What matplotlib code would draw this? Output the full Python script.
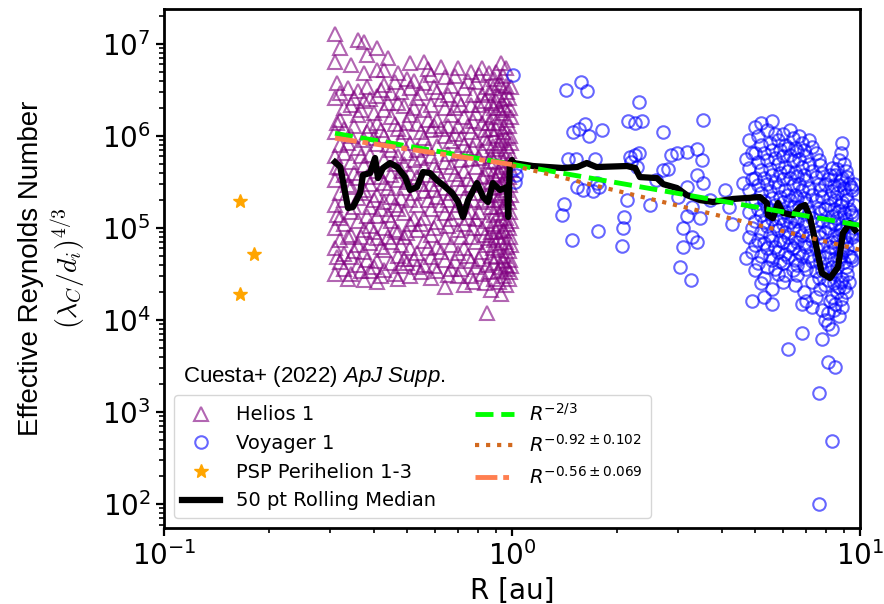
import matplotlib
matplotlib.use("Agg")
from matplotlib import pyplot as plt
import numpy as np

# Helios 1 : columns of R [au] with the Re values read in each
helios_cols = [0.31, 0.32, 0.33, 0.345, 0.36, 0.375, 0.39, 0.41, 0.43, 0.45,
               0.47, 0.49, 0.51, 0.535, 0.56, 0.585, 0.61, 0.64, 0.67, 0.70,
               0.73, 0.76, 0.79, 0.82, 0.85, 0.87, 0.89, 0.91, 0.93, 0.95,
               0.97, 0.99,
               0.315, 0.338, 0.352, 0.368, 0.383, 0.40, 0.42, 0.44, 0.46, 0.48,
               0.50, 0.523, 0.548, 0.572, 0.597, 0.625, 0.655, 0.685, 0.715, 0.745,
               0.775, 0.805, 0.835, 0.86, 0.88, 0.90, 0.92, 0.94, 0.96, 0.98, 0.995]
helios_re = [
    [1.3e7, 6.3e6, 2.6e6, 1.1e6, 6e5, 3.3e5, 1.8e5, 1.0e5, 6e4, 3.2e4],
    [9e6, 2.9e6, 1.5e6, 8e5, 4.5e5, 2.4e5, 1.3e5, 7.5e4, 4.3e4],
    [2.0e6, 1.2e6, 6.5e5, 3.8e5, 2.0e5, 1.1e5, 5.2e4, 3.6e4],
    [5.9e6, 2.2e6, 1.0e6, 5.2e5, 2.8e5, 1.5e5, 8.5e4, 4.8e4, 3.2e4],
    [1.1e7, 3.1e6, 1.7e6, 7.5e5, 3.5e5, 2.1e5, 1.2e5, 6.5e4, 4.0e4],
    [1.05e7, 4.8e6, 2.4e6, 9e5, 4.8e5, 2.6e5, 9.5e4, 5.5e4, 2.7e4],
    [2.5e6, 1.3e6, 6.2e5, 3.0e5, 1.7e5, 1.05e5, 6.8e4, 3.4e4],
    [9e6, 5.2e6, 2.7e6, 1.4e6, 8.2e5, 4.2e5, 2.3e5, 1.35e5, 7.8e4, 4.4e4, 2.6e4],
    [5.2e6, 3.6e6, 1.9e6, 1.0e6, 5.5e5, 3.1e5, 1.9e5, 1.0e5, 5.8e4, 3.5e4],
    [2.9e6, 1.6e6, 7.0e5, 3.8e5, 2.2e5, 1.2e5, 7.0e4, 4.2e4],
    [4.8e6, 2.3e6, 1.2e6, 6.0e5, 3.3e5, 1.6e5, 9.0e4, 5.0e4, 2.8e4],
    [2.1e6, 1.1e6, 5.0e5, 2.7e5, 1.45e5, 8.0e4, 4.6e4],
    [6.2e6, 3.3e6, 1.7e6, 8.5e5, 4.0e5, 2.0e5, 1.1e5, 6.0e4, 3.0e4],
    [2.6e6, 1.35e6, 7.0e5, 3.6e5, 1.8e5, 9.5e4, 5.4e4, 3.8e4],
    [6.3e6, 3.8e6, 1.9e6, 9.5e5, 4.6e5, 2.5e5, 1.3e5, 7.2e4, 4.0e4],
    [4.6e6, 2.2e6, 1.15e6, 6.0e5, 3.0e5, 1.6e5, 8.5e4, 4.8e4, 2.9e4],
    [3.0e6, 1.5e6, 7.8e5, 4.2e5, 2.2e5, 1.15e5, 6.3e4, 3.4e4],
    [4.4e6, 2.0e6, 1.0e6, 5.2e5, 2.7e5, 1.45e5, 8.0e4, 4.5e4, 2.3e4],
    [3.5e6, 1.7e6, 8.8e5, 4.6e5, 2.4e5, 1.25e5, 6.6e4, 3.6e4],
    [5.5e6, 2.5e6, 1.3e6, 6.5e5, 3.4e5, 1.8e5, 9.5e4, 5.4e4, 3.0e4],
    [3.3e6, 1.6e6, 8.0e5, 4.2e5, 2.1e5, 1.1e5, 6.0e4, 2.4e4],
    [5.0e6, 2.2e6, 1.1e6, 5.6e5, 2.9e5, 1.5e5, 8.0e4, 4.4e4, 3.0e4],
    [3.9e6, 1.8e6, 9.0e5, 4.6e5, 2.4e5, 1.25e5, 7.0e4, 3.8e4],
    [5.5e6, 2.8e6, 1.4e6, 7.0e5, 3.6e5, 1.9e5, 1.0e5, 5.5e4, 3.2e4],
    [3.4e6, 1.7e6, 8.5e5, 4.4e5, 2.3e5, 1.2e5, 6.5e4, 4.0e4, 1.2e4],
    [2.3e6, 1.2e6, 6.0e5, 3.2e5, 1.7e5, 9.0e4, 5.0e4, 2.1e4],
    [4.2e6, 2.0e6, 1.0e6, 5.2e5, 2.7e5, 1.4e5, 7.5e4, 4.2e4, 2.8e4],
    [2.8e6, 1.4e6, 7.2e5, 3.8e5, 2.0e5, 1.05e5, 5.8e4, 3.4e4],
    [6.2e6, 3.6e6, 1.8e6, 9.0e5, 4.6e5, 2.4e5, 1.25e5, 6.8e4, 3.8e4, 1.9e4],
    [2.5e6, 1.25e6, 6.4e5, 3.3e5, 1.75e5, 9.2e4, 5.0e4, 3.0e4],
    [3.0e6, 1.5e6, 7.8e5, 4.0e5, 2.1e5, 1.1e5, 6.2e4, 3.6e4],
    [2.0e6, 1.0e6, 5.5e5, 2.9e5, 1.5e5, 8.0e4, 4.5e4, 3.3e4],
    [3.8e6, 1.4e6, 4.6e5, 1.4e5, 4.8e4],
    [3.3e6, 8.5e5, 2.9e5, 8.0e4, 2.8e4],
    [2.6e6, 1.3e6, 4.0e5, 1.7e5, 5.6e4],
    [1.9e6, 6.0e5, 2.4e5, 8.0e4, 3.4e4],
    [7.5e6, 3.4e6, 1.1e6, 3.6e5, 1.35e5, 4.5e4],
    [1.8e6, 9.5e5, 4.8e5, 2.0e5, 9.0e4, 3.8e4],
    [3.2e6, 1.15e6, 3.6e5, 1.6e5, 6.2e4, 3.0e4],
    [7.0e6, 2.3e6, 8.0e5, 2.7e5, 1.4e5, 8.0e4],
    [3.9e6, 1.35e6, 5.0e5, 1.8e5, 9.5e4, 3.2e4],
    [3.0e6, 9.0e5, 4.2e5, 2.1e5, 6.5e4, 3.9e4],
    [4.2e6, 1.4e6, 6.5e5, 3.2e5, 8.8e4, 4.2e4],
    [4.0e6, 2.0e6, 5.5e5, 2.4e5, 1.25e5, 4.6e4],
    [2.9e6, 1.1e6, 5.8e5, 3.0e5, 1.1e5, 3.3e4],
    [5.3e6, 1.5e6, 7.5e5, 3.8e5, 2.0e5, 6.0e4],
    [3.4e6, 1.3e6, 4.8e5, 2.6e5, 1.0e5, 3.9e4],
    [5.6e6, 2.5e6, 1.2e6, 3.4e5, 1.8e5, 5.5e4],
    [2.8e6, 1.3e6, 6.4e5, 2.0e5, 1.05e5, 3.1e4],
    [4.5e6, 2.0e6, 1.05e6, 3.9e5, 1.5e5, 4.4e4],
    [2.2e6, 9.5e5, 5.5e5, 2.7e5, 8.0e4, 3.6e4],
    [4.0e6, 1.3e6, 6.8e5, 3.4e5, 1.3e5, 5.0e4],
    [2.8e6, 1.45e6, 7.5e5, 2.0e5, 1.0e5, 2.6e4],
    [4.6e6, 2.2e6, 5.8e5, 3.0e5, 1.5e5, 4.6e4],
    [2.4e6, 1.15e6, 9.5e5, 3.7e5, 8.5e4, 2.5e4],
    [4.8e6, 2.9e6, 1.4e6, 5.3e5, 2.0e5, 7.8e4, 3.3e4],
    [3.3e6, 1.6e6, 7.8e5, 3.9e5, 2.3e5, 1.1e5, 6.0e4],
    [5.0e6, 2.4e6, 1.2e6, 6.0e5, 3.3e5, 1.7e5, 9.0e4, 4.8e4],
    [3.8e6, 2.0e6, 8.5e5, 4.2e5, 2.8e5, 1.45e5, 8.0e4, 2.6e4],
    [4.5e6, 2.2e6, 1.1e6, 5.4e5, 3.0e5, 1.6e5, 9.5e4, 4.4e4],
    [5.5e6, 3.5e6, 1.9e6, 9.5e5, 4.8e5, 2.6e5, 1.3e5, 7.0e4, 4.0e4, 2.4e4],
    [2.6e6, 1.3e6, 6.8e5, 3.6e5, 1.9e5, 1.0e5, 5.6e4, 2.8e4],
    [3.4e6, 1.6e6, 8.5e5, 4.3e5, 2.3e5, 1.2e5, 6.6e4, 3.9e4],
]

# Voyager 1 between 1 and 4.9 au
voyager_r = [1.007, 1.02, 1.03, 1.02, 1.43, 1.58, 1.64, 1.62, 1.50, 1.56,
             1.66, 1.81, 1.45, 1.53, 1.73, 1.54, 1.60, 1.71, 1.78, 1.75,
             1.41, 1.39, 1.77, 1.49, 2.32, 2.16, 2.26, 2.36, 2.18, 2.26,
             2.20, 2.32, 2.28, 2.07, 2.08, 2.10, 2.14, 2.72, 2.72, 2.80,
             2.87, 2.98, 2.50, 2.60, 3.54, 3.19, 3.41, 3.52, 3.41, 3.54,
             3.18, 3.30, 3.18, 3.47, 3.10, 3.30, 3.40, 3.10, 3.03, 3.26,
             4.10, 4.20, 4.30, 3.00, 3.70, 4.60, 4.70, 4.70, 4.90]
voyager_re = [4.6e6, 4.5e5, 3.8e5, 3.2e5, 3.2e6, 3.9e6, 3.1e6, 1.35e6, 1.1e6, 1.19e6,
              1.0e6, 1.16e6, 5.6e5, 5.6e5, 5.6e5, 2.8e5, 2.6e5, 2.5e5, 2.8e5, 3.1e5,
              1.83e5, 1.4e5, 9.3e4, 7.4e4, 2.34e6, 1.46e6, 1.38e6, 1.46e6, 5.9e5, 6.2e5,
              5.2e5, 6.6e5, 4.6e5, 6.4e4, 1.0e5, 1.32e5, 2.0e5, 1.1e6, 4.3e5, 4.4e5,
              6.2e5, 6.6e5, 1.8e5, 3.3e5, 1.49e6, 6.7e5, 7.2e5, 5.5e5, 3.8e5, 3.1e5,
              2.8e5, 1.7e5, 1.35e5, 1.3e5, 1.0e5, 8.0e4, 7.0e4, 6.2e4, 3.8e4, 2.7e4,
              2.6e5, 1.7e5, 1.1e5, 2.2e5, 2.0e5, 3.1e5, 5.6e5, 4.7e4, 1.6e4]

# Voyager 1 cluster beyond 4.8 au, by column
voyager_cols = [4.8, 5.0, 5.2, 5.4, 5.6, 5.8, 6.0, 6.2, 6.4, 6.6, 6.8, 7.0,
                7.3, 7.6, 7.8, 8.1, 8.3, 8.5, 8.7, 8.9, 9.1, 9.3, 9.5,
                4.9, 5.1, 5.3, 5.5, 5.7, 5.9, 6.1, 6.3, 6.5, 6.7, 6.9, 7.15,
                7.45, 7.7, 7.95, 8.2, 8.4, 8.6, 8.8, 9.0, 9.2, 9.4, 9.6]
voyager_cluster_re = [
    [9e5, 4.5e5, 2.6e5, 1.5e5, 8e4],
    [1.25e6, 6.5e5, 3.5e5, 2.0e5, 1.2e5, 6.5e4, 3.5e4],
    [1.4e6, 8.0e5, 4.3e5, 2.4e5, 1.4e5, 9.0e4, 5.0e4, 2.5e4],
    [1.16e6, 5.5e5, 3.0e5, 1.7e5, 1.05e5, 6.0e4, 3.8e4],
    [1.46e6, 7.0e5, 3.8e5, 2.1e5, 1.25e5, 7.5e4, 4.5e4, 2.2e4, 1.5e4],
    [9.0e5, 5.0e5, 2.8e5, 1.6e5, 9.5e4, 5.5e4, 3.2e4],
    [1.05e6, 6.0e5, 3.4e5, 1.9e5, 1.1e5, 7.0e4, 4.2e4, 2.6e4],
    [7.5e5, 4.2e5, 2.3e5, 1.35e5, 8.0e4, 4.8e4, 4.9e3],
    [9.5e5, 5.3e5, 2.9e5, 1.7e5, 1.0e5, 6.0e4, 3.5e4],
    [6.8e5, 3.7e5, 2.1e5, 1.2e5, 7.0e4, 4.0e4, 3.1e4],
    [8.5e5, 4.6e5, 2.6e5, 1.5e5, 8.5e4, 5.0e4, 1.5e4, 7.2e3],
    [6.0e5, 3.3e5, 1.85e5, 1.05e5, 6.2e4, 3.6e4, 1.6e4],
    [7.6e5, 4.2e5, 2.3e5, 1.3e5, 7.5e4, 4.4e4, 2.6e4, 1.4e4],
    [5.5e5, 3.0e5, 1.65e5, 9.0e4, 5.0e4, 2.9e4, 1.6e3, 1.0e2],
    [4.0e5, 2.2e5, 1.2e5, 6.5e4, 3.5e4, 1.3e4, 6.3e3],
    [3.4e5, 1.8e5, 1.0e5, 5.5e4, 2.7e4, 1.2e4, 9.0e3, 3.5e3],
    [4.5e5, 2.5e5, 1.35e5, 7.0e4, 3.8e4, 1.8e4, 8.0e3, 4.9e2],
    [3.8e5, 2.0e5, 1.1e5, 6.0e4, 3.2e4, 1.5e4, 3.1e3],
    [5.5e5, 2.9e5, 1.55e5, 8.5e4, 4.5e4, 2.3e4, 1.1e4],
    [8.4e5, 3.5e5, 1.9e5, 1.0e5, 5.5e4, 2.8e4, 1.4e4],
    [4.2e5, 2.3e5, 1.25e5, 7.0e4, 3.8e4, 2.0e4],
    [3.0e5, 1.6e5, 9.0e4, 5.0e4, 2.6e4],
    [2.6e5, 1.4e5, 8.0e4, 4.5e4],
    [6.5e5, 3.4e5, 1.9e5, 1.0e5, 5.5e4],
    [1.0e6, 5.2e5, 2.9e5, 1.6e5, 7.5e4, 4.2e4],
    [6.5e5, 3.5e5, 1.95e5, 1.15e5, 6.8e4, 2.9e4, 1.8e4],
    [8.5e5, 4.4e5, 2.5e5, 1.45e5, 8.5e4, 5.0e4],
    [1.05e6, 5.8e5, 3.2e5, 1.8e5, 1.05e5, 6.2e4, 3.6e4],
    [7.0e5, 4.0e5, 2.2e5, 1.3e5, 7.5e4, 4.4e4],
    [8.0e5, 4.6e5, 2.6e5, 1.5e5, 9.0e4, 5.2e4, 3.1e4],
    [1.15e6, 6.2e5, 3.5e5, 2.0e5, 1.15e5, 6.5e4],
    [7.5e5, 4.1e5, 2.3e5, 1.3e5, 7.8e4, 4.5e4, 2.4e4],
    [1.0e6, 5.6e5, 3.0e5, 1.7e5, 9.5e4, 5.5e4],
    [7.0e5, 3.8e5, 2.1e5, 1.2e5, 6.8e4, 4.0e4, 2.0e4],
    [9.0e5, 5.0e5, 2.7e5, 1.5e5, 8.5e4, 5.0e4],
    [6.5e5, 3.6e5, 2.0e5, 1.1e5, 6.0e4, 3.4e4, 1.8e4],
    [4.8e5, 2.6e5, 1.45e5, 8.0e4, 4.2e4, 2.2e4],
    [3.0e5, 1.6e5, 9.0e4, 4.8e4, 2.4e4, 1.0e4],
    [3.8e5, 2.1e5, 1.15e5, 6.2e4, 3.3e4, 1.6e4],
    [2.9e5, 1.6e5, 8.5e4, 4.6e4, 2.5e4, 1.3e4],
    [4.4e5, 2.4e5, 1.3e5, 7.2e4, 3.8e4, 2.0e4],
    [6.5e5, 3.3e5, 1.8e5, 9.5e4, 5.0e4, 2.6e4, 1.7e4],
    [5.0e5, 2.7e5, 1.45e5, 8.0e4, 4.3e4, 2.3e4],
    [3.6e5, 2.0e5, 1.1e5, 6.0e4, 3.2e4],
    [2.8e5, 1.5e5, 8.5e4, 4.8e4],
    [3.0e5, 1.8e5, 1.0e5, 6.5e4],
]

# PSP perihelia 1-3
psp_r = [0.165, 0.181, 0.165]
psp_re = [1.96e5, 5.2e4, 1.92e4]

# 50 pt rolling median
median_r = [0.310, 0.321, 0.338, 0.349, 0.366, 0.373, 0.391, 0.404, 0.412, 0.426,
            0.446, 0.468, 0.493, 0.509, 0.533, 0.555, 0.581, 0.608, 0.634, 0.673,
            0.700, 0.723, 0.748, 0.793, 0.826, 0.853, 0.881, 0.924, 0.968, 0.975,
            0.986, 1.000, 1.007, 1.148, 1.40, 1.54, 1.64, 1.75, 2.14, 2.26,
            2.33, 2.61, 2.72, 2.98, 3.18, 3.47, 3.78, 4.32, 5.16, 5.40,
            5.44, 5.62, 5.81, 6.01, 6.42, 6.72, 6.95, 7.18, 7.42, 7.77,
            8.20, 8.65, 8.93, 9.35, 9.68]
median_re = [5.2e5, 4.6e5, 1.65e5, 1.69e5, 2.4e5, 3.77e5, 3.96e5, 5.77e5, 3.49e5, 4.49e5,
             5.09e5, 4.6e5, 3.58e5, 2.59e5, 2.79e5, 4.06e5, 3.96e5, 3.32e5, 2.93e5, 2.4e5,
             1.92e5, 1.32e5, 2.01e5, 3.08e5, 2.17e5, 1.92e5, 3.08e5, 2.59e5, 2.79e5, 1.32e5,
             5.09e5, 5.48e5, 5.09e5, 4.72e5, 4.49e5, 4.6e5, 5.09e5, 4.6e5, 4.72e5, 4.49e5,
             3.58e5, 3.49e5, 3.0e5, 2.72e5, 2.28e5, 2.01e5, 1.92e5, 2.07e5, 2.17e5, 1.87e5,
             1.38e5, 1.28e5, 1.87e5, 1.46e5, 1.38e5, 1.69e5, 1.78e5, 1.32e5, 7.4e4, 3.24e4,
             2.86e4, 3.77e4, 8.8e4, 1.13e5, 9.5e4]

# power law fits (end points)
fit23_r, fit23_re = [0.31, 10.0], [1.07e6, 1.07e5]
fit092_r, fit092_re = [1.0, 10.0], [4.8e5, 5.8e4]
fit056_r, fit056_re = [0.31, 1.0], [9.5e5, 4.9e5]

plt.rcParams['mathtext.it'] = 'Liberation Sans:italic'
plt.rcParams['mathtext.rm'] = 'Liberation Sans'

fig = plt.figure(figsize=(8.84, 6.04), dpi=100)
ax = fig.add_axes([164/884, 76/604, 696/884, 519/604])

hx = np.concatenate([[c]*len(v) for c, v in zip(helios_cols, helios_re)])
hy = np.concatenate(helios_re)
vx = np.concatenate([voyager_r] + [[c]*len(v) for c, v in zip(voyager_cols, voyager_cluster_re)])
vy = np.concatenate([voyager_re] + voyager_cluster_re)

ax.plot(hx, hy, ls='none', marker='^', ms=9.5, mfc='none', mec='purple', mew=1.5,
        alpha=0.6, label='Helios 1')
ax.plot(vx, vy, ls='none', marker='o', ms=9, mfc='none', mec='blue', mew=1.5,
        alpha=0.6, label='Voyager 1')
ax.plot(psp_r, psp_re, ls='none', marker='*', ms=10, color='orange',
        label='PSP Perihelion 1-3')
ax.plot(median_r, median_re, color='black', lw=4.5, label='50 pt Rolling Median')
ax.plot(fit23_r, fit23_re, color='lime', lw=3.5, ls='--', label=r'$R^{-2/3}$')
ax.plot(fit092_r, fit092_re, color='chocolate', lw=3, ls=':',
        label=r'$R^{-0.92\pm0.102}$')
ax.plot(fit056_r, fit056_re, color='coral', lw=3.5, dashes=(4.5, 1.2, 1.2, 1.2),
        label=r'$R^{-0.56\pm0.069}$')

ax.set_xscale('log')
ax.set_yscale('log')
ax.set_xlim(0.1, 10)
ax.set_ylim(55, 2.4e7)

ax.set_xlabel('R [au]', fontsize=20)
ax.set_ylabel('Effective Reynolds Number\n' + r'$(\lambda_C/d_i)^{4/3}$', fontsize=20,
              family='Liberation Sans', math_fontfamily='cm', labelpad=10)
ax.tick_params(which='major', labelsize=20, length=6, width=1.6)
ax.tick_params(which='minor', length=3.5, width=1.2)
for s in ax.spines.values():
    s.set_linewidth(2)

ax.text(0.027, 0.291, r'Cuesta+ (2022) $\mathit{ApJ\ Supp.}$', transform=ax.transAxes,
        fontsize=16, family='Liberation Sans', math_fontfamily='custom', va='center')
ax.legend(loc='lower left', ncol=2, fontsize=14)

plt.savefig('out.png', dpi=100)
